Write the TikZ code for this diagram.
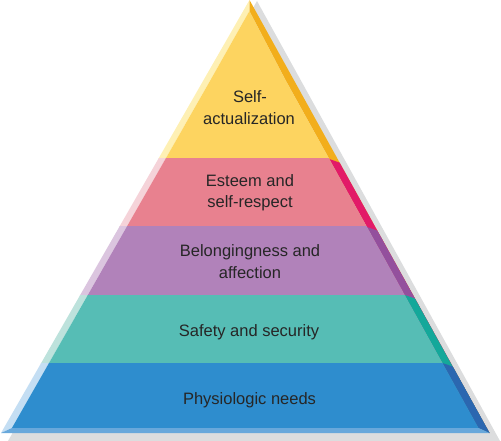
\documentclass[tikz,border=0pt]{standalone}
\usepackage{fontspec}
\setmainfont{Liberation Sans}
\definecolor{shadowc}{HTML}{DCDDDE}
\definecolor{yelF}{HTML}{FDD460}
\definecolor{yelR}{HTML}{F2AE1C}
\definecolor{yelL}{HTML}{FEF0B4}
\definecolor{pinF}{HTML}{E8818F}
\definecolor{pinR}{HTML}{E21A68}
\definecolor{pinL}{HTML}{F5D3D9}
\definecolor{purF}{HTML}{B182BA}
\definecolor{purR}{HTML}{93509D}
\definecolor{purL}{HTML}{DBC5DF}
\definecolor{teaF}{HTML}{56BDB5}
\definecolor{teaR}{HTML}{14A89A}
\definecolor{teaL}{HTML}{BDE2DC}
\definecolor{bluF}{HTML}{2E8DCE}
\definecolor{bluR}{HTML}{2B67B0}
\definecolor{bluL}{HTML}{C4DEF3}
\definecolor{bluB}{HTML}{68A8DB}
\definecolor{txtc}{HTML}{262626}
\tikzset{
  lbl/.style={anchor=base, inner sep=0pt, text=txtc, font=\fontsize{16.5bp}{20bp}\selectfont},
}
\begin{document}
\begin{tikzpicture}[x=1bp,y=-1bp]
\useasboundingbox (0,0) rectangle (501,441);
% outer corners
\coordinate (Ao) at (249.5,0);
\coordinate (BL) at (1,433);
\coordinate (BR) at (489.5,433);
% front face corners
\coordinate (F) at (249.4,11);
\coordinate (FL) at (210.5,80);
\coordinate (FR) at (285.5,80);
\coordinate (BLi) at (11.9,428);
\coordinate (BRi) at (478.5,428);
% shadow
\coordinate (S) at (257,1);
\coordinate (SR) at (500,441);
\coordinate (SL) at (8,441);
\fill[shadowc] (S) -- (SR) -- (SL) -- cycle;
% right faces (slanted band boundaries)
\fill[yelR] (Ao) -- (F) -- (FR) -- (BRi) -- (BR) -- cycle;
\begin{scope}
\clip (0,159) -- (329.3,159) -- (520,225.7) -- (520,450) -- (0,450) -- cycle;
\fill[pinR] (Ao) -- (F) -- (FR) -- (BRi) -- (BR) -- cycle;
\end{scope}
\begin{scope}
\clip (0,227) -- (367,227) -- (520,280.6) -- (520,450) -- (0,450) -- cycle;
\fill[purR] (Ao) -- (F) -- (FR) -- (BRi) -- (BR) -- cycle;
\end{scope}
\begin{scope}
\clip (0,295) -- (404.7,295) -- (520,335.4) -- (520,450) -- (0,450) -- cycle;
\fill[teaR] (Ao) -- (F) -- (FR) -- (BRi) -- (BR) -- cycle;
\end{scope}
\begin{scope}
\clip (0,363) -- (442.5,363) -- (520,390.1) -- (520,450) -- (0,450) -- cycle;
\fill[bluR] (Ao) -- (F) -- (FR) -- (BRi) -- (BR) -- cycle;
\end{scope}
% front and left faces
\begin{scope}
\clip (0,-5) rectangle (501,159);
\fill[yelL] (Ao) -- (BL) -- (BLi) -- (FL) -- (F) -- cycle;
\fill[yelF] (F) -- (FL) -- (BLi) -- (BRi) -- (FR) -- cycle;
\end{scope}
\begin{scope}
\clip (0,159) rectangle (501,227);
\fill[pinL] (Ao) -- (BL) -- (BLi) -- (FL) -- (F) -- cycle;
\fill[pinF] (F) -- (FL) -- (BLi) -- (BRi) -- (FR) -- cycle;
\end{scope}
\begin{scope}
\clip (0,227) rectangle (501,295);
\fill[purL] (Ao) -- (BL) -- (BLi) -- (FL) -- (F) -- cycle;
\fill[purF] (F) -- (FL) -- (BLi) -- (BRi) -- (FR) -- cycle;
\end{scope}
\begin{scope}
\clip (0,295) rectangle (501,363);
\fill[teaL] (Ao) -- (BL) -- (BLi) -- (FL) -- (F) -- cycle;
\fill[teaF] (F) -- (FL) -- (BLi) -- (BRi) -- (FR) -- cycle;
\end{scope}
\begin{scope}
\clip (0,363) rectangle (501,434);
\fill[bluL] (Ao) -- (BL) -- (BLi) -- (FL) -- (F) -- cycle;
\fill[bluF] (F) -- (FL) -- (BLi) -- (BRi) -- (FR) -- cycle;
\end{scope}
% base face
\fill[bluB] (BL) -- (BR) -- (BRi) -- (BLi) -- cycle;
% labels
\node[lbl] (t1a) at (250,103) {Self-};
\node[lbl] (t1b) at (249,125) {actualization};
\node[lbl] (t2a) at (250,187) {Esteem and};
\node[lbl] (t2b) at (250,208) {self-respect};
\node[lbl] (t3a) at (250,256) {Belongingness and};
\node[lbl] (t3b) at (250,278) {affection};
\node[lbl] (t4) at (249,336) {Safety and security};
\node[lbl] (t5) at (249.5,404) {Physiologic needs};
\end{tikzpicture}
\end{document}
